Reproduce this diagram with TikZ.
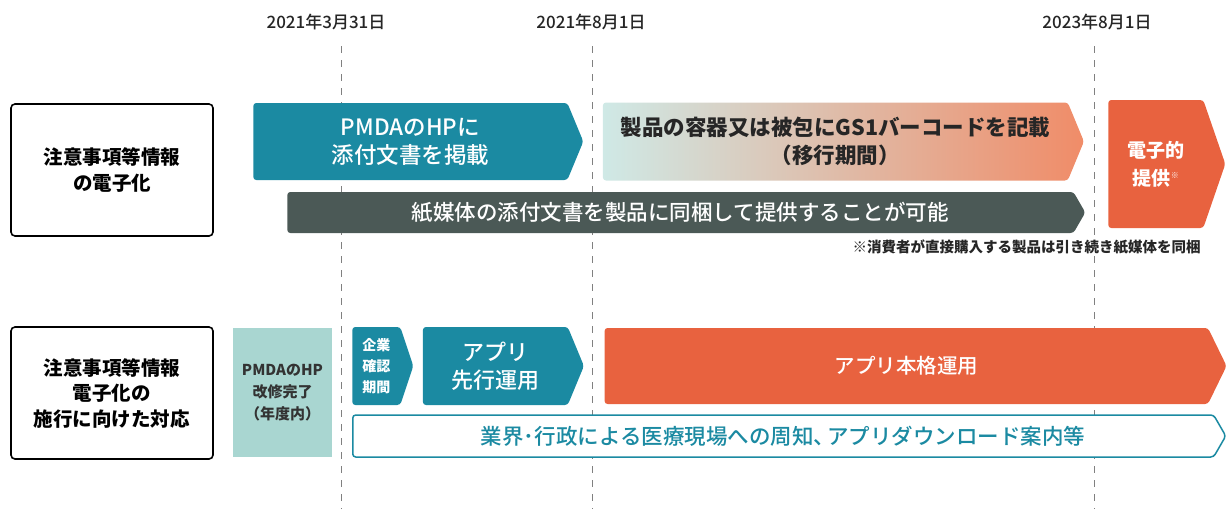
\documentclass[tikz,border=0pt]{standalone}
\usepackage{fontspec}
\setmainfont{Noto Sans CJK JP}
\newfontfamily\medfont{Noto Sans CJK JP Medium}
\usepackage{tikz}
\usetikzlibrary{backgrounds}
\usetikzlibrary{positioning}
\usetikzlibrary{shapes.symbols}
\definecolor{dashgray}{rgb}{0.5,0.5,0.5}
\definecolor{appteal}{HTML}{1B8AA2}
\definecolor{paleteal}{HTML}{A9D6D1}
\definecolor{gradteal}{HTML}{CFE9E6}
\definecolor{gradorange}{HTML}{F08C68}
\definecolor{apporange}{HTML}{E8623F}
\definecolor{papergray}{HTML}{4B5956}

\begin{document}
\begin{tikzpicture}[
            x = 1pt, y = -1pt, % one unit per pixel, downwards
            inner sep = 0pt,
            semithick
        ]

        \tikzstyle{phase}=[
            signal,
            signal to = east,
            signal from = nowhere,
            rounded corners = 3pt,
            anchor = west,
            align = center,
            text = white
        ]
        \tikzstyle{header}=[
            draw = black,
            line width = 1.6pt,
            rounded corners = 4pt,
            minimum width = 202pt,
            minimum height = 132pt,
            align = center,
            font = \bfseries\fontsize{19.5}{25.5}\selectfont
        ]
        \tikzstyle{dateline}=[dashgray, line width = 1pt, dash pattern = on 7pt off 7pt]
        \tikzstyle{datelabel}=[font = \medfont\fontsize{17}{17}\selectfont, text = black!85]

        \useasboundingbox (0,0) rectangle (1229,509);

        % dates
        \node[datelabel] (D1) at (326,22) {2021年3月31日};
        \node[datelabel] (D2) at (591,22) {2021年8月1日};
        \node[datelabel] (D3) at (1097,22) {2023年8月1日};

        \coordinate (T1) at (341,46);  \coordinate (B1) at (341,509);
        \coordinate (T2) at (592,46);  \coordinate (B2) at (592,509);
        \coordinate (T3) at (1094,46); \coordinate (B3) at (1094,509);

        % row 1
        \node[header] (H1) at (112,170) {注意事項等情報\\の電子化};

        \node[phase, fill = appteal, minimum width = 330pt, minimum height = 77pt,
              signal pointer angle = 135, font = \medfont\fontsize{22.5}{28}\selectfont]
              (PMDA) at (253,141.5) {PMDAのHPに\\添付文書を掲載};
        \node[phase, left color = gradteal, right color = gradorange, text = black!85,
              minimum width = 481pt, minimum height = 78pt, signal pointer angle = 135,
              font = \bfseries\fontsize{21.5}{28}\selectfont]
              (GS1) [right = 19pt of PMDA] {製品の容器又は被包にGS1バーコードを記載\\（移行期間）};
        \node[phase, fill = papergray, minimum width = 798pt, minimum height = 41pt,
              signal pointer angle = 120, font = \medfont\fontsize{21.5}{24}\selectfont]
              (PAPER) at (287,212.5) {紙媒体の添付文書を製品に同梱して提供することが可能};
        \node[phase, fill = apporange, minimum width = 117pt, minimum height = 128pt,
              signal pointer angle = 142, font = \bfseries\fontsize{19}{28}\selectfont]
              (EPROV) at (1108,164) {電子的\\提供{\fontsize{8}{8}\selectfont\raisebox{7pt}{※}}};

        \node[anchor = east, font = \bfseries\fontsize{14.5}{16}\selectfont, text = black!85]
              (NOTE) at (1201,247) {※消費者が直接購入する製品は引き続き紙媒体を同梱};

        % row 2
        \node[header] (H2) at (112,393) {注意事項等情報\\電子化の\\施行に向けた対応};

        \node[fill = paleteal, minimum width = 99pt, minimum height = 129pt, align = center,
              text = black!80, font = \bfseries\fontsize{15}{22}\selectfont]
              (HP) at (282.5,392.5) {PMDAのHP\\改修完了\\（年度内）};

        \node[phase, fill = appteal, minimum width = 61pt, minimum height = 78pt,
              signal pointer angle = 143, font = \bfseries\fontsize{14}{21}\selectfont]
              (CHECK) at (352,366) {企業\\確認\\期間};
        \node[phase, fill = appteal, minimum width = 161pt, minimum height = 78pt,
              signal pointer angle = 135, font = \medfont\fontsize{22}{28}\selectfont]
              (APP) [right = 9pt of CHECK] {アプリ\\先行運用};
        \node[phase, fill = apporange, minimum width = 622pt, minimum height = 76pt,
              signal pointer angle = 128, font = \medfont\fontsize{20.5}{24}\selectfont]
              (FULL) [right = 20pt of APP] {アプリ本格運用};

        \node[phase, fill = white, draw = appteal, line width = 1.5pt, text = appteal,
              minimum width = 873pt, minimum height = 42pt,
              signal pointer angle = 120, font = \medfont\fontsize{21.5}{24}\selectfont]
              (NOTICE) at (352,436) {業界･行政による医療現場への周知、\kern-0.35em アプリダウンロード案内等};

        \begin{scope}[on background layer]
            \draw[dateline] (T1) -- (B1);
            \draw[dateline] (T2) -- (B2);
            \draw[dateline] (T3) -- (B3);
        \end{scope}

\end{tikzpicture}
\end{document}
